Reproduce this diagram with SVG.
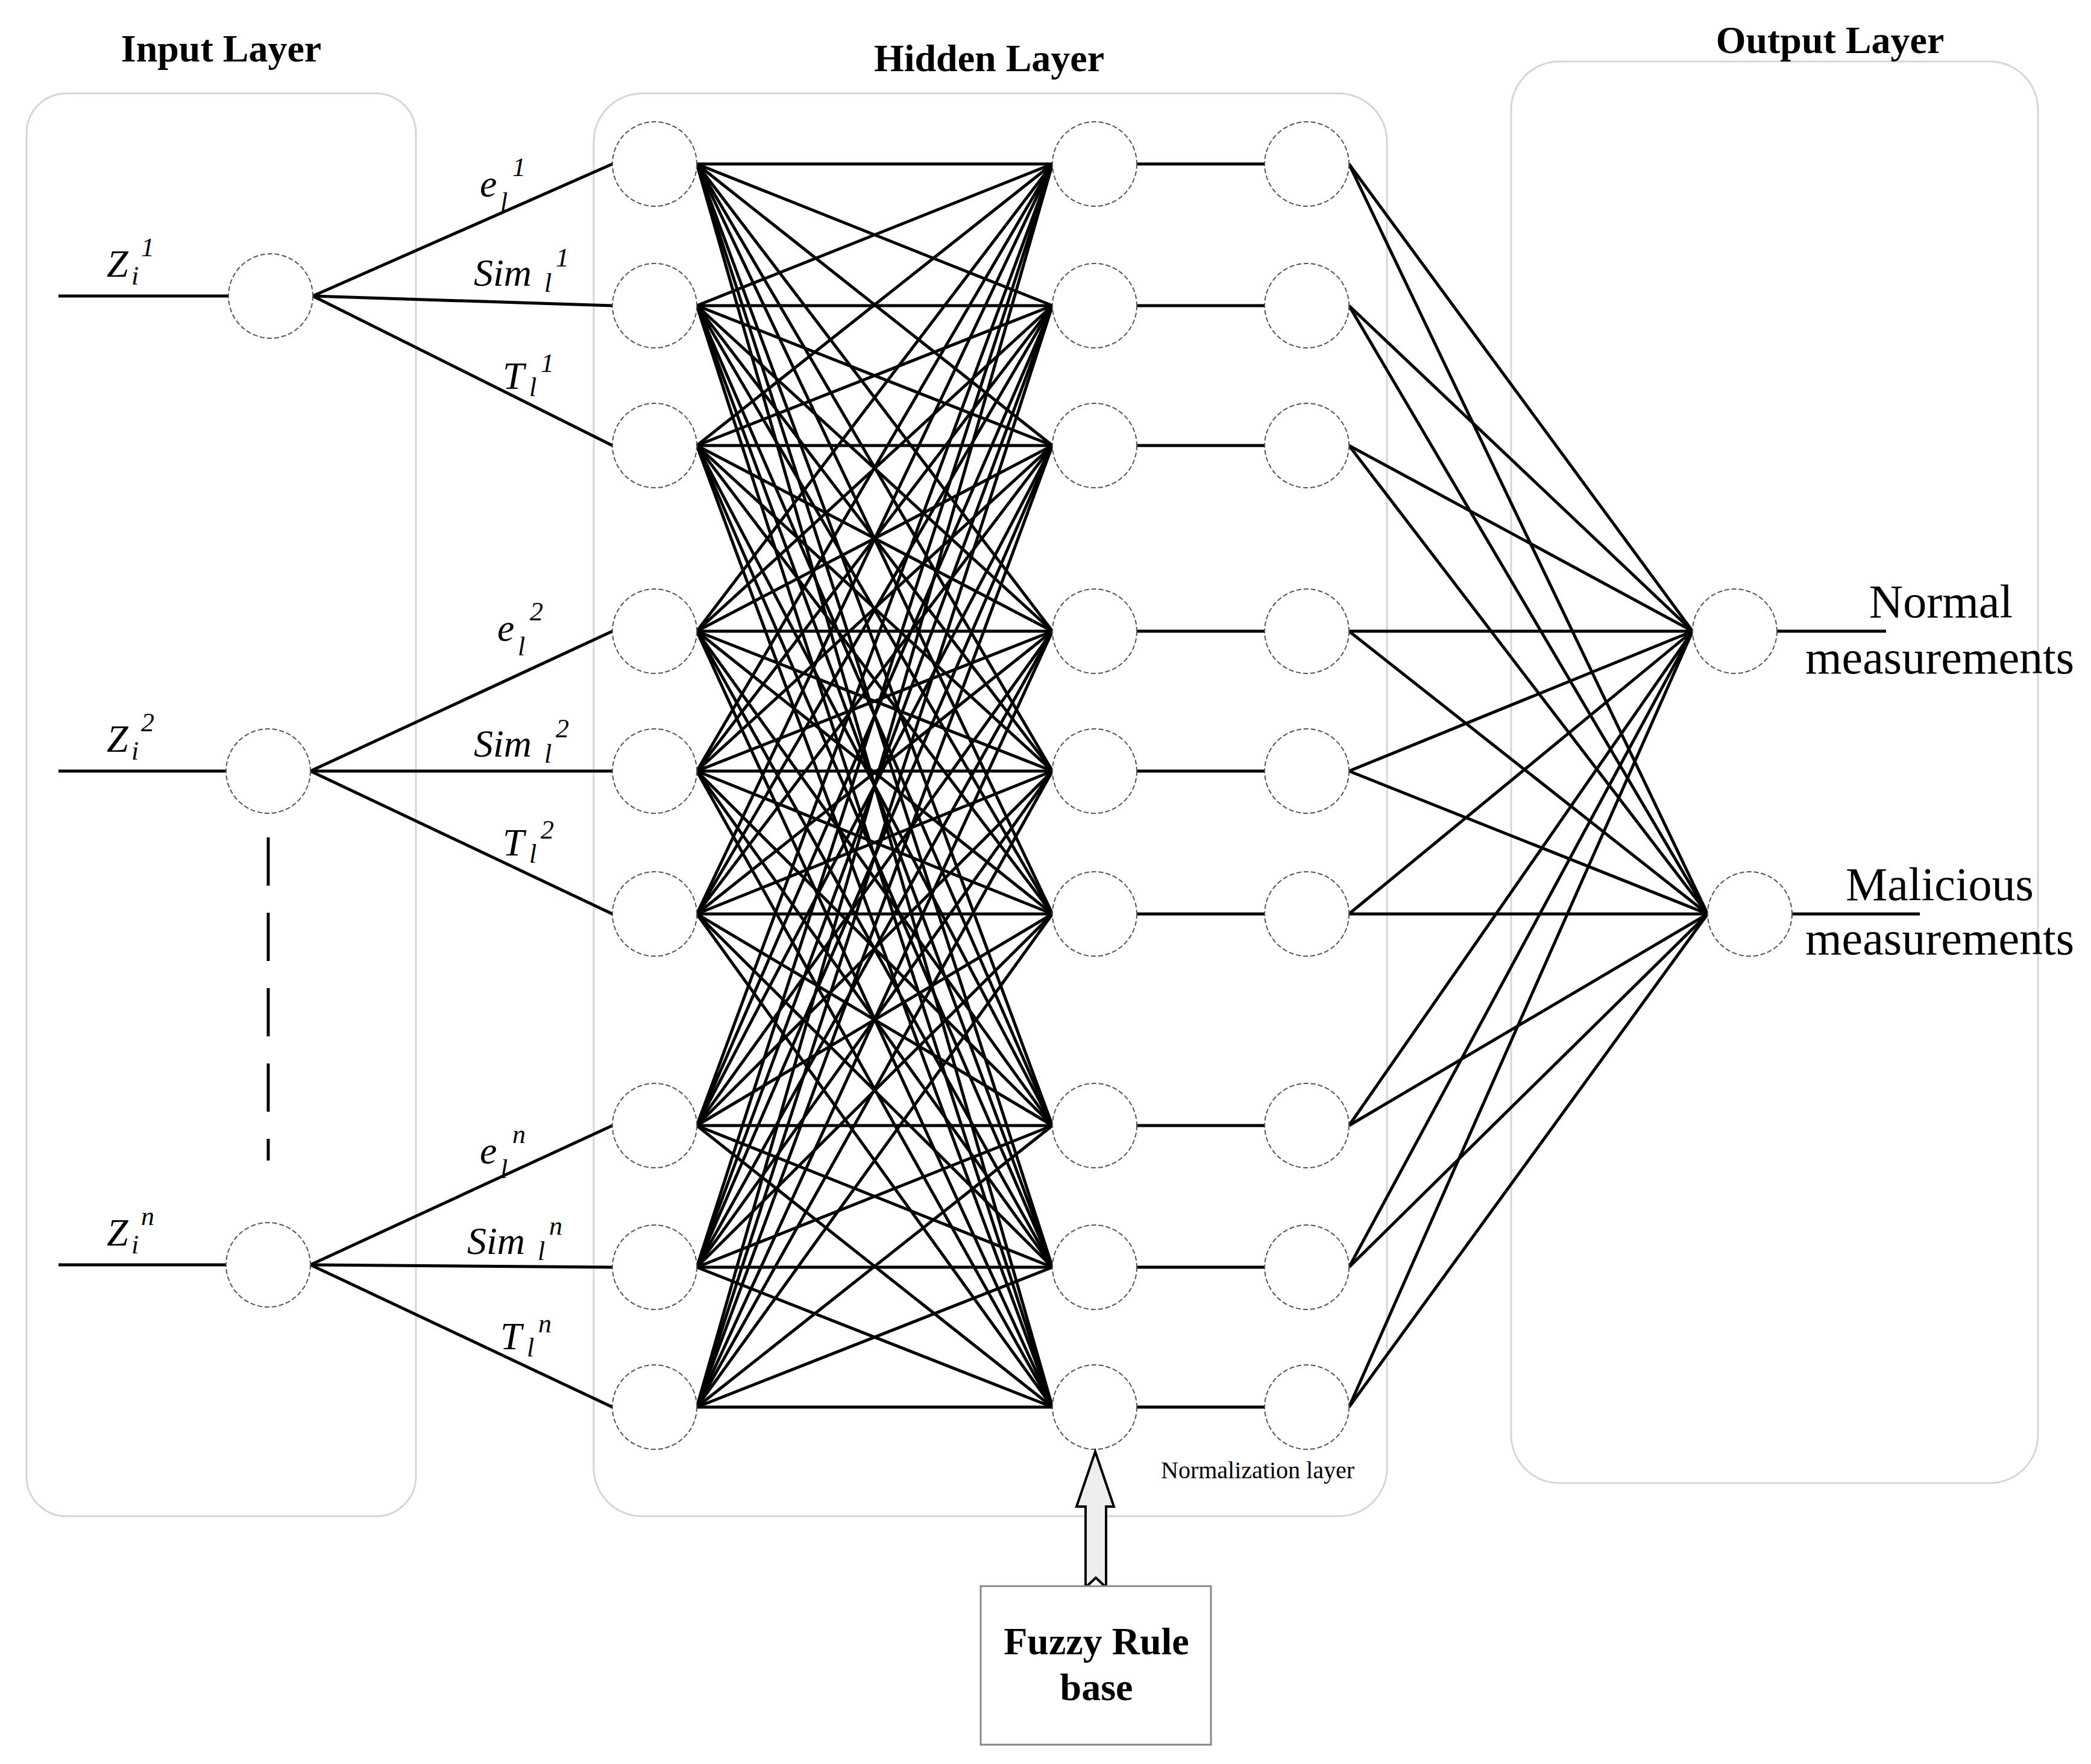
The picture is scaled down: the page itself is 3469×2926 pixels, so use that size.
<svg xmlns="http://www.w3.org/2000/svg" width="3469" height="2926" viewBox="0 0 3469 2926">
<style>
.box{fill:none;stroke:#d6d6d6;stroke-width:3}
.n{fill:#fff;stroke:#555;stroke-width:2;stroke-dasharray:8 4}
.c line{stroke:#000;stroke-width:5}
.t{font-family:"Liberation Serif",serif;font-weight:bold;font-size:64px;text-anchor:middle}
.m{font-family:"Liberation Serif",serif;font-style:italic;font-size:64px}
.s{font-family:"Liberation Serif",serif;font-style:italic;font-size:44px}
.o{font-family:"Liberation Serif",serif;font-size:78px;text-anchor:middle}
</style>
<rect width="3469" height="2926" fill="#fff"/>
<rect class="box" x="44" y="155" width="646" height="2360" rx="66"/>
<rect class="box" x="985" y="155" width="1316" height="2360" rx="80"/>
<rect class="box" x="2507" y="102" width="874" height="2358" rx="80"/>
<text class="t" x="367" y="102">Input Layer</text>
<text class="t" x="1641" y="118">Hidden Layer</text>
<text class="t" x="3036" y="88">Output Layer</text>
<g id="connectors" class="c">
<line x1="97" y1="491" x2="379" y2="491"/><line x1="97" y1="1279" x2="375" y2="1279"/><line x1="97" y1="2098" x2="375" y2="2098"/>
<line x1="519" y1="491" x2="1016" y2="272"/><line x1="519" y1="491" x2="1016" y2="507"/><line x1="519" y1="491" x2="1016" y2="739"/>
<line x1="515" y1="1279" x2="1016" y2="1047"/><line x1="515" y1="1279" x2="1016" y2="1279"/><line x1="515" y1="1279" x2="1016" y2="1516"/>
<line x1="515" y1="2098" x2="1016" y2="1867"/><line x1="515" y1="2098" x2="1016" y2="2102"/><line x1="515" y1="2098" x2="1016" y2="2334"/>
<line x1="445" y1="1389" x2="445" y2="1925" stroke-dasharray="80 45" stroke-width="8"/>
<g id="full">
<line x1="1156" y1="272" x2="1746" y2="272"/><line x1="1156" y1="272" x2="1746" y2="507"/><line x1="1156" y1="272" x2="1746" y2="739"/><line x1="1156" y1="272" x2="1746" y2="1047"/><line x1="1156" y1="272" x2="1746" y2="1279"/><line x1="1156" y1="272" x2="1746" y2="1516"/><line x1="1156" y1="272" x2="1746" y2="1867"/><line x1="1156" y1="272" x2="1746" y2="2102"/><line x1="1156" y1="272" x2="1746" y2="2334"/>
<line x1="1156" y1="507" x2="1746" y2="272"/><line x1="1156" y1="507" x2="1746" y2="507"/><line x1="1156" y1="507" x2="1746" y2="739"/><line x1="1156" y1="507" x2="1746" y2="1047"/><line x1="1156" y1="507" x2="1746" y2="1279"/><line x1="1156" y1="507" x2="1746" y2="1516"/><line x1="1156" y1="507" x2="1746" y2="1867"/><line x1="1156" y1="507" x2="1746" y2="2102"/><line x1="1156" y1="507" x2="1746" y2="2334"/>
<line x1="1156" y1="739" x2="1746" y2="272"/><line x1="1156" y1="739" x2="1746" y2="507"/><line x1="1156" y1="739" x2="1746" y2="739"/><line x1="1156" y1="739" x2="1746" y2="1047"/><line x1="1156" y1="739" x2="1746" y2="1279"/><line x1="1156" y1="739" x2="1746" y2="1516"/><line x1="1156" y1="739" x2="1746" y2="1867"/><line x1="1156" y1="739" x2="1746" y2="2102"/><line x1="1156" y1="739" x2="1746" y2="2334"/>
<line x1="1156" y1="1047" x2="1746" y2="272"/><line x1="1156" y1="1047" x2="1746" y2="507"/><line x1="1156" y1="1047" x2="1746" y2="739"/><line x1="1156" y1="1047" x2="1746" y2="1047"/><line x1="1156" y1="1047" x2="1746" y2="1279"/><line x1="1156" y1="1047" x2="1746" y2="1516"/><line x1="1156" y1="1047" x2="1746" y2="1867"/><line x1="1156" y1="1047" x2="1746" y2="2102"/><line x1="1156" y1="1047" x2="1746" y2="2334"/>
<line x1="1156" y1="1279" x2="1746" y2="272"/><line x1="1156" y1="1279" x2="1746" y2="507"/><line x1="1156" y1="1279" x2="1746" y2="739"/><line x1="1156" y1="1279" x2="1746" y2="1047"/><line x1="1156" y1="1279" x2="1746" y2="1279"/><line x1="1156" y1="1279" x2="1746" y2="1516"/><line x1="1156" y1="1279" x2="1746" y2="1867"/><line x1="1156" y1="1279" x2="1746" y2="2102"/><line x1="1156" y1="1279" x2="1746" y2="2334"/>
<line x1="1156" y1="1516" x2="1746" y2="272"/><line x1="1156" y1="1516" x2="1746" y2="507"/><line x1="1156" y1="1516" x2="1746" y2="739"/><line x1="1156" y1="1516" x2="1746" y2="1047"/><line x1="1156" y1="1516" x2="1746" y2="1279"/><line x1="1156" y1="1516" x2="1746" y2="1516"/><line x1="1156" y1="1516" x2="1746" y2="1867"/><line x1="1156" y1="1516" x2="1746" y2="2102"/><line x1="1156" y1="1516" x2="1746" y2="2334"/>
<line x1="1156" y1="1867" x2="1746" y2="272"/><line x1="1156" y1="1867" x2="1746" y2="507"/><line x1="1156" y1="1867" x2="1746" y2="739"/><line x1="1156" y1="1867" x2="1746" y2="1047"/><line x1="1156" y1="1867" x2="1746" y2="1279"/><line x1="1156" y1="1867" x2="1746" y2="1516"/><line x1="1156" y1="1867" x2="1746" y2="1867"/><line x1="1156" y1="1867" x2="1746" y2="2102"/><line x1="1156" y1="1867" x2="1746" y2="2334"/>
<line x1="1156" y1="2102" x2="1746" y2="272"/><line x1="1156" y1="2102" x2="1746" y2="507"/><line x1="1156" y1="2102" x2="1746" y2="739"/><line x1="1156" y1="2102" x2="1746" y2="1047"/><line x1="1156" y1="2102" x2="1746" y2="1279"/><line x1="1156" y1="2102" x2="1746" y2="1516"/><line x1="1156" y1="2102" x2="1746" y2="1867"/><line x1="1156" y1="2102" x2="1746" y2="2102"/><line x1="1156" y1="2102" x2="1746" y2="2334"/>
<line x1="1156" y1="2334" x2="1746" y2="272"/><line x1="1156" y1="2334" x2="1746" y2="507"/><line x1="1156" y1="2334" x2="1746" y2="739"/><line x1="1156" y1="2334" x2="1746" y2="1047"/><line x1="1156" y1="2334" x2="1746" y2="1279"/><line x1="1156" y1="2334" x2="1746" y2="1516"/><line x1="1156" y1="2334" x2="1746" y2="1867"/><line x1="1156" y1="2334" x2="1746" y2="2102"/><line x1="1156" y1="2334" x2="1746" y2="2334"/>
</g>
<line x1="1885" y1="272" x2="2098" y2="272"/><line x1="1885" y1="507" x2="2098" y2="507"/><line x1="1885" y1="739" x2="2098" y2="739"/><line x1="1885" y1="1047" x2="2098" y2="1047"/><line x1="1885" y1="1279" x2="2098" y2="1279"/><line x1="1885" y1="1516" x2="2098" y2="1516"/><line x1="1885" y1="1867" x2="2098" y2="1867"/><line x1="1885" y1="2102" x2="2098" y2="2102"/><line x1="1885" y1="2334" x2="2098" y2="2334"/>
<line x1="2238" y1="272" x2="2808" y2="1047"/><line x1="2238" y1="507" x2="2808" y2="1047"/><line x1="2238" y1="739" x2="2808" y2="1047"/><line x1="2238" y1="1047" x2="2808" y2="1047"/><line x1="2238" y1="1279" x2="2808" y2="1047"/><line x1="2238" y1="1516" x2="2808" y2="1047"/><line x1="2238" y1="1867" x2="2808" y2="1047"/><line x1="2238" y1="2102" x2="2808" y2="1047"/><line x1="2238" y1="2334" x2="2808" y2="1047"/>
<line x1="2238" y1="272" x2="2833" y2="1516"/><line x1="2238" y1="507" x2="2833" y2="1516"/><line x1="2238" y1="739" x2="2833" y2="1516"/><line x1="2238" y1="1047" x2="2833" y2="1516"/><line x1="2238" y1="1279" x2="2833" y2="1516"/><line x1="2238" y1="1516" x2="2833" y2="1516"/><line x1="2238" y1="1867" x2="2833" y2="1516"/><line x1="2238" y1="2102" x2="2833" y2="1516"/><line x1="2238" y1="2334" x2="2833" y2="1516"/>
<line x1="2948" y1="1047" x2="3129" y2="1047"/><line x1="2973" y1="1516" x2="3185" y2="1516"/>
</g>
<g id="input-nodes">
<circle class="n" cx="449" cy="491" r="70"/><circle class="n" cx="445" cy="1279" r="70"/><circle class="n" cx="445" cy="2098" r="70"/>
</g>
<g id="hidden-a">
<circle class="n" cx="1086" cy="272" r="70"/><circle class="n" cx="1086" cy="507" r="70"/><circle class="n" cx="1086" cy="739" r="70"/><circle class="n" cx="1086" cy="1047" r="70"/><circle class="n" cx="1086" cy="1279" r="70"/><circle class="n" cx="1086" cy="1516" r="70"/><circle class="n" cx="1086" cy="1867" r="70"/><circle class="n" cx="1086" cy="2102" r="70"/><circle class="n" cx="1086" cy="2334" r="70"/>
</g>
<g id="hidden-b">
<circle class="n" cx="1816" cy="272" r="70"/><circle class="n" cx="1816" cy="507" r="70"/><circle class="n" cx="1816" cy="739" r="70"/><circle class="n" cx="1816" cy="1047" r="70"/><circle class="n" cx="1816" cy="1279" r="70"/><circle class="n" cx="1816" cy="1516" r="70"/><circle class="n" cx="1816" cy="1867" r="70"/><circle class="n" cx="1816" cy="2102" r="70"/><circle class="n" cx="1816" cy="2334" r="70"/>
</g>
<g id="hidden-c">
<circle class="n" cx="2168" cy="272" r="70"/><circle class="n" cx="2168" cy="507" r="70"/><circle class="n" cx="2168" cy="739" r="70"/><circle class="n" cx="2168" cy="1047" r="70"/><circle class="n" cx="2168" cy="1279" r="70"/><circle class="n" cx="2168" cy="1516" r="70"/><circle class="n" cx="2168" cy="1867" r="70"/><circle class="n" cx="2168" cy="2102" r="70"/><circle class="n" cx="2168" cy="2334" r="70"/>
</g>
<g id="output-nodes">
<circle class="n" cx="2878" cy="1047" r="70"/><circle class="n" cx="2903" cy="1516" r="70"/>
<text class="o" x="3220" y="1024">Normal</text><text class="o" x="3218" y="1117">measurements</text>
<text class="o" x="3218" y="1493">Malicious</text><text class="o" x="3218" y="1583">measurements</text>
</g>
<g id="labels">
<text class="m" x="177" y="459">Z</text><text class="s" x="218" y="472">i</text><text class="s" x="234" y="425">1</text>
<text class="m" x="177" y="1247">Z</text><text class="s" x="218" y="1260">i</text><text class="s" x="234" y="1213">2</text>
<text class="m" x="177" y="2066">Z</text><text class="s" x="218" y="2079">i</text><text class="s" x="234" y="2032">n</text>
<text class="m" x="796" y="326">e</text><text class="s" x="830" y="350">l</text><text class="s" x="850" y="292">1</text>
<text class="m" x="786" y="474">Sim</text><text class="s" x="903" y="484">l</text><text class="s" x="922" y="442">1</text>
<text class="m" x="834" y="645">T</text><text class="s" x="878" y="657">l</text><text class="s" x="897" y="617">1</text>
<text class="m" x="825" y="1063">e</text><text class="s" x="859" y="1087">l</text><text class="s" x="879" y="1029">2</text>
<text class="m" x="786" y="1255">Sim</text><text class="s" x="903" y="1265">l</text><text class="s" x="922" y="1223">2</text>
<text class="m" x="834" y="1419">T</text><text class="s" x="878" y="1431">l</text><text class="s" x="897" y="1391">2</text>
<text class="m" x="796" y="1930">e</text><text class="s" x="830" y="1954">l</text><text class="s" x="850" y="1896">n</text>
<text class="m" x="775" y="2080">Sim</text><text class="s" x="892" y="2090">l</text><text class="s" x="911" y="2048">n</text>
<text class="m" x="830" y="2238">T</text><text class="s" x="874" y="2250">l</text><text class="s" x="893" y="2210">n</text>
<text x="1926" y="2452" font-family="'Liberation Serif',serif" font-size="40">Normalization layer</text>
</g>
<g id="fuzzy">
<path d="M1817 2408 L1848 2499 L1835 2499 L1835 2633 L1818 2617 L1801 2633 L1801 2499 L1786 2499 Z" fill="#eee" stroke="#000" stroke-width="4" stroke-linejoin="miter"/>
<rect x="1627" y="2631" width="382" height="263" fill="#fff" stroke="#888" stroke-width="3"/>
<text class="t" x="1819" y="2744">Fuzzy Rule</text>
<text class="t" x="1819" y="2820">base</text>
</g>
</svg>
